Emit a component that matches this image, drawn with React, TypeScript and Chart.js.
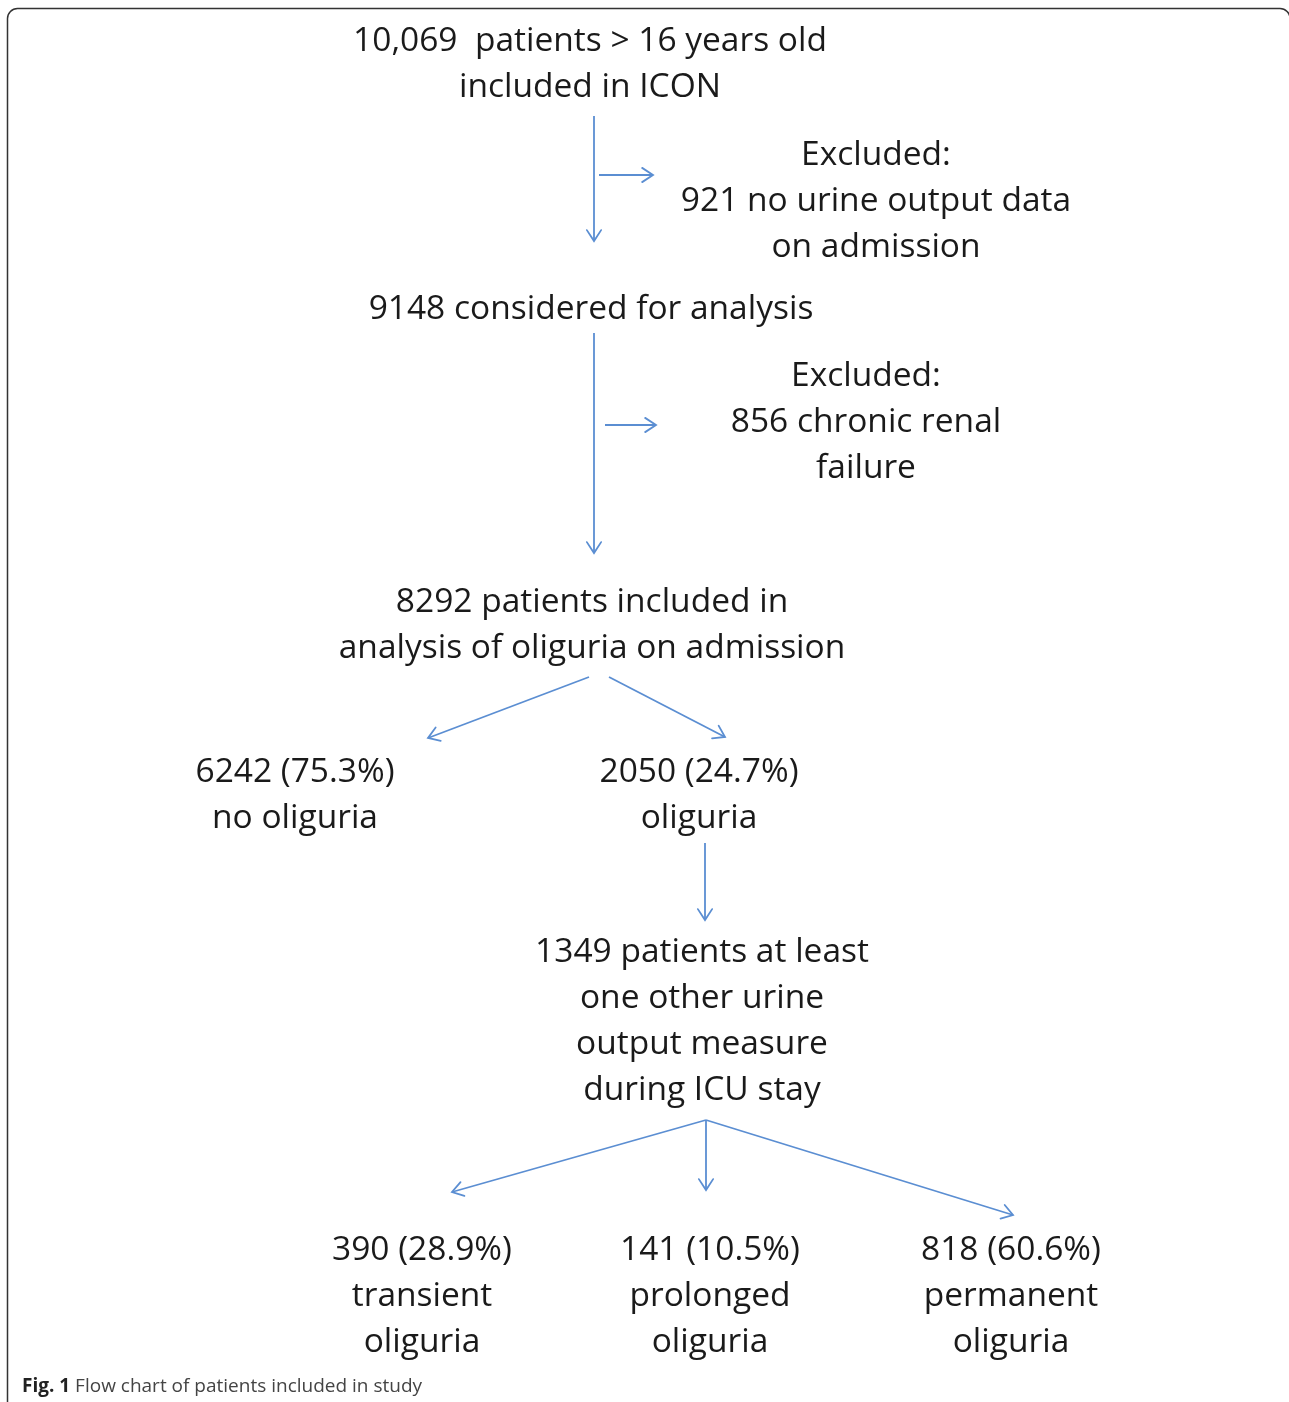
import React, { useEffect, useRef } from "react";
import { Chart, registerables } from "chart.js";

Chart.register(...registerables);

// Flow chart nodes: text lines
const nodeLabels: string[][] = [
  ["10,069  patients > 16 years old", "included in ICON"],
  ["Excluded:", "921 no urine output data", "on admission"],
  ["9148 considered for analysis"],
  ["Excluded:", "856 chronic renal", "failure"],
  ["8292 patients included in", "analysis of oliguria on admission"],
  ["6242 (75.3%)", "no oliguria"],
  ["2050 (24.7%)", "oliguria"],
  ["1349 patients at least", "one other urine", "output measure", "during ICU stay"],
  ["390 (28.9%)", "transient", "oliguria"],
  ["141 (10.5%)", "prolonged", "oliguria"],
  ["818 (60.6%)", "permanent", "oliguria"],
];
// node anchor (center x, baseline of first line) in diagram units
const nodeX = [590, 876, 591, 866, 592, 295, 699, 702, 422, 710, 1011];
const nodeY = [51, 165, 319, 386, 612, 782, 782, 962, 1260, 1260, 1260];

// arrows (from -> to) in diagram units
const arrowFromX = [594, 599, 594, 605, 589, 609, 705, 706, 706, 706];
const arrowFromY = [116, 175, 333, 425, 677, 677, 843, 1120, 1120, 1120];
const arrowToX = [594, 653, 594, 656, 428, 725, 705, 452, 706, 1013];
const arrowToY = [241, 175, 553, 425, 738, 737, 920, 1192, 1190, 1215];

const captionBold = "Fig. 1";
const captionText = " Flow chart of patients included in study";

const W = 1289;
const H = 1402;
const ARROW_COLOR = "#5b8ed2";
const TEXT_COLOR = "#1a1a1a";

const overlayPlugin = {
  id: "flowOverlay",
  afterDraw(chart: any) {
    const ctx = chart.ctx as CanvasRenderingContext2D;
    const xs = chart.scales.x;
    const ys = chart.scales.y;
    ctx.save();
    // frame
    ctx.strokeStyle = "#333";
    ctx.lineWidth = 1.5;
    ctx.beginPath();
    const fx = xs.getPixelForValue(7.5), fy = ys.getPixelForValue(8.5);
    const fw = xs.getPixelForValue(1290) - fx, fh = ys.getPixelForValue(1430) - fy;
    (ctx as any).roundRect(fx, fy, fw, fh, 10);
    ctx.stroke();

    // arrowheads
    ctx.strokeStyle = ARROW_COLOR;
    ctx.lineWidth = 1.8;
    ctx.lineCap = "round";
    for (let i = 0; i < arrowToX.length; i++) {
      const x1 = xs.getPixelForValue(arrowFromX[i]);
      const y1 = ys.getPixelForValue(arrowFromY[i]);
      const x2 = xs.getPixelForValue(arrowToX[i]);
      const y2 = ys.getPixelForValue(arrowToY[i]);
      const ang = Math.atan2(y2 - y1, x2 - x1);
      const len = 13;
      const spread = 0.58;
      ctx.beginPath();
      ctx.moveTo(x2 - len * Math.cos(ang - spread), y2 - len * Math.sin(ang - spread));
      ctx.lineTo(x2, y2);
      ctx.lineTo(x2 - len * Math.cos(ang + spread), y2 - len * Math.sin(ang + spread));
      ctx.stroke();
    }

    // node texts
    ctx.fillStyle = TEXT_COLOR;
    ctx.font = "33.5px 'Open Sans'";
    ctx.textAlign = "center";
    ctx.textBaseline = "alphabetic";
    for (let i = 0; i < nodeLabels.length; i++) {
      const cx = xs.getPixelForValue(nodeX[i]);
      nodeLabels[i].forEach((line, j) => {
        const by = ys.getPixelForValue(nodeY[i] + j * 46);
        ctx.fillText(line, cx, by);
      });
    }

    // caption
    ctx.textAlign = "left";
    const capX = xs.getPixelForValue(22);
    const capY = ys.getPixelForValue(1392);
    ctx.font = "bold 19px 'Open Sans'";
    ctx.fillStyle = "#222";
    ctx.fillText(captionBold, capX, capY);
    const bw = ctx.measureText(captionBold).width;
    ctx.font = "19px 'Open Sans'";
    ctx.fillStyle = "#444";
    ctx.fillText(captionText, capX + bw, capY);
    ctx.restore();
  },
};

export default function App() {
  const ref = useRef<HTMLCanvasElement | null>(null);
  useEffect(() => {
    document.body.style.margin = "0";
    const canvas = ref.current;
    if (!canvas) return;
    const datasets = arrowToX.map((_, i) => ({
      label: "arrow" + i,
      data: [
        { x: arrowFromX[i], y: arrowFromY[i] },
        { x: arrowToX[i], y: arrowToY[i] },
      ],
      showLine: true,
      borderColor: ARROW_COLOR,
      borderWidth: 1.8,
      pointRadius: 0,
      fill: false,
    }));
    const chart = new Chart(canvas, {
      type: "scatter",
      data: { datasets },
      options: {
        animation: false,
        responsive: false,
        maintainAspectRatio: false,
        layout: { padding: 0 },
        plugins: { legend: { display: false }, tooltip: { enabled: false }, title: { display: false } },
        scales: {
          x: { type: "linear", min: 0, max: W, display: false },
          y: { type: "linear", min: 0, max: H, reverse: true, display: false },
        },
      },
      plugins: [overlayPlugin],
    });
    return () => chart.destroy();
  }, []);
  return (
    <div style={{ width: W, height: H, background: "#fff" }}>
      <canvas ref={ref} width={W} height={H} style={{ display: "block" }} />
    </div>
  );
}
